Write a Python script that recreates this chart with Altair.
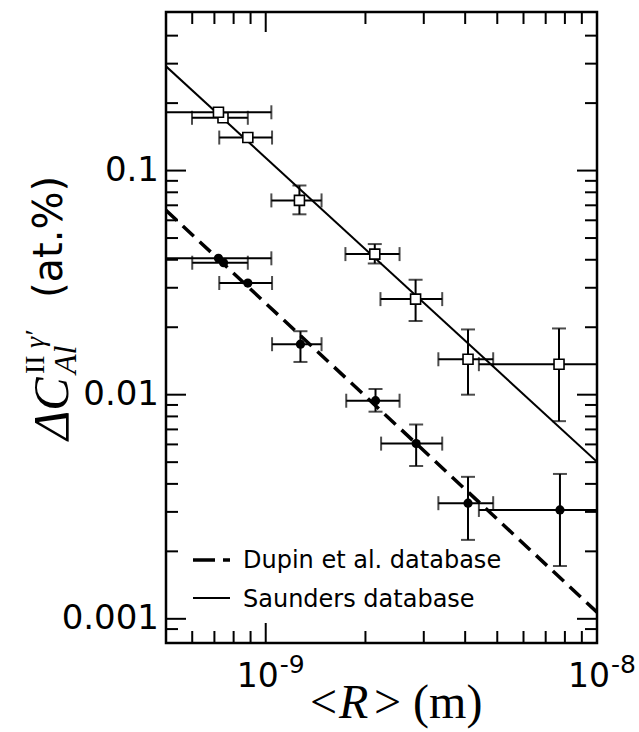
import altair as alt
import pandas as pd

# ---------------- data ----------------
# Saunders database (open squares)
s_x   = [7.43e-10, 7.2e-10, 8.83e-10, 1.264e-9, 2.134e-9, 2.834e-9, 4.08e-9, 7.68e-9]
s_y   = [0.172, 0.182, 0.1404, 0.0736, 0.0424, 0.0267, 0.01439, 0.01368]
s_xlo = [5.99e-10, 4.5e-10, 7.24e-10, 1.04e-9, 1.74e-9, 2.22e-9, 3.32e-9, 4.40e-9]
s_xhi = [8.83e-10, 1.04e-9, 1.045e-9, 1.474e-9, 2.535e-9, 3.41e-9, 4.86e-9, 1.3e-8]
s_ylo = [None, None, None, 0.0638, 0.0385, 0.0213, 0.0100, 0.00762]
s_yhi = [None, None, None, 0.0858, 0.0470, 0.0326, 0.01955, 0.01975]

# Dupin et al. database (filled circles)
d_x   = [7.46e-10, 7.2e-10, 8.83e-10, 1.273e-9, 2.145e-9, 2.845e-9, 4.08e-9, 7.73e-9]
d_y   = [0.0388, 0.0406, 0.0315, 0.0168, 0.0094, 0.00605, 0.00328, 0.00306]
d_xlo = [6.0e-10, 4.5e-10, 7.24e-10, 1.045e-9, 1.75e-9, 2.23e-9, 3.32e-9, 4.40e-9]
d_xhi = [8.83e-10, 1.04e-9, 1.045e-9, 1.474e-9, 2.535e-9, 3.41e-9, 4.86e-9, 1.3e-8]
d_ylo = [None, None, None, 0.0140, 0.0084, 0.00481, 0.00225, 0.00172]
d_yhi = [None, None, None, 0.0192, 0.0106, 0.00736, 0.0043, 0.00443]

# fitted lines (end points at the frame)
fit_x = [5e-10, 1e-8]
fit_saunders = [0.292, 0.00502]
fit_dupin = [0.0665, 0.00107]

# tick values and labels
xt_major = [1e-9, 1e-8]
xt_minor = [6e-10, 7e-10, 8e-10, 9e-10, 2e-9, 3e-9, 4e-9, 5e-9, 6e-9, 7e-9, 8e-9, 9e-9]
xt_base = ["10", "10"]
xt_exp = ["-9", "-8"]
yt_major = [0.001, 0.01, 0.1]
yt_labels = ["0.001", "0.01", "0.1"]
yt_minor = [0.0009, 0.002, 0.003, 0.004, 0.005, 0.006, 0.007, 0.008, 0.009,
            0.02, 0.03, 0.04, 0.05, 0.06, 0.07, 0.08, 0.09, 0.2, 0.3, 0.4]

legend_labels = ["Dupin et al. database", "Saunders database"]

# ---------------- chart ----------------
W, H = 431, 631
SANS = "DejaVu Sans"
SERIF = "Liberation Serif"

xscale = alt.Scale(type="log", domain=[5e-10, 1e-8], nice=False)
yscale = alt.Scale(type="log", domain=[0.00078, 0.51], nice=False)


def X(f):
    return alt.X(f"{f}:Q", scale=xscale, axis=None)


def Y(f):
    return alt.Y(f"{f}:Q", scale=yscale, axis=None)


def series_layers(df, shape, filled):
    base = alt.Chart(df)
    xerr = base.mark_rule(clip=True, color="black", strokeWidth=2).encode(
        x=X("xlo"), x2="xhi", y=Y("y"))
    xcap = base.transform_fold(["xlo", "xhi"], as_=["k", "cx"]).mark_tick(
        orient="vertical", size=14, thickness=2, color="black", clip=True).encode(
        x=X("cx"), y=Y("y"))
    yerr = base.transform_filter("isValid(datum.ylo)").mark_rule(
        clip=True, color="black", strokeWidth=2).encode(x=X("x"), y=Y("ylo"), y2="yhi")
    ycap = base.transform_filter("isValid(datum.ylo)").transform_fold(
        ["ylo", "yhi"], as_=["k", "cy"]).mark_tick(
        orient="horizontal", size=14, thickness=2, color="black", clip=True).encode(
        x=X("x"), y=Y("cy"))
    if filled:
        pts = base.mark_point(shape=shape, filled=True, color="black", size=85,
                              opacity=1, clip=True).encode(x=X("x"), y=Y("y"))
    else:
        pts = base.mark_point(shape=shape, filled=True, fill="white", stroke="black",
                              strokeWidth=1.6, size=100, opacity=1, clip=True).encode(
            x=X("x"), y=Y("y"))
    return [xerr, xcap, yerr, ycap, pts]


sdf = pd.DataFrame({"x": s_x, "y": s_y, "xlo": s_xlo, "xhi": s_xhi, "ylo": s_ylo, "yhi": s_yhi})
ddf = pd.DataFrame({"x": d_x, "y": d_y, "xlo": d_xlo, "xhi": d_xhi, "ylo": d_ylo, "yhi": d_yhi})

fit_df = pd.DataFrame({"x": fit_x, "ys": fit_saunders, "yd": fit_dupin})
line_s = alt.Chart(fit_df).mark_line(color="black", strokeWidth=2, clip=True).encode(
    x=X("x"), y=Y("ys"))
line_d = alt.Chart(fit_df).mark_line(color="black", strokeWidth=3.5, strokeDash=[15, 8],
                                     clip=True).encode(x=X("x"), y=Y("yd"))

# inward ticks
MAJ, MIN = 20, 12
xmaj = pd.DataFrame({"v": xt_major})
xmin = pd.DataFrame({"v": xt_minor})
ymaj = pd.DataFrame({"v": yt_major, "lab": yt_labels})
ymin = pd.DataFrame({"v": yt_minor})
tick_layers = []
for df, L in [(xmaj, MAJ), (xmin, MIN)]:
    tick_layers.append(alt.Chart(df).mark_rule(color="black", strokeWidth=2).encode(
        x=X("v"), y=alt.value(H), y2=alt.value(H - L)))
    tick_layers.append(alt.Chart(df).mark_rule(color="black", strokeWidth=2).encode(
        x=X("v"), y=alt.value(0), y2=alt.value(L)))
for df, L in [(ymaj, MAJ), (ymin, MIN)]:
    tick_layers.append(alt.Chart(df).mark_rule(color="black", strokeWidth=2).encode(
        y=Y("v"), x=alt.value(0), x2=alt.value(L)))
    tick_layers.append(alt.Chart(df).mark_rule(color="black", strokeWidth=2).encode(
        y=Y("v"), x=alt.value(W), x2=alt.value(W - L)))

# frame
frame = alt.Chart(pd.DataFrame({"a": [0]})).mark_rect(
    fill=None, stroke="black", strokeWidth=2.5).encode(
    x=alt.value(0), x2=alt.value(W), y=alt.value(0), y2=alt.value(H))

# y tick labels
yl = alt.Chart(ymaj).mark_text(font=SANS, fontSize=34, align="right", baseline="middle",
                               color="black").encode(y=Y("v"), x=alt.value(-7), text="lab:N")

# x tick labels 10^n
xl = pd.DataFrame({"v": xt_major, "b": xt_base, "e": xt_exp})
xl_base = alt.Chart(xl).mark_text(font=SANS, fontSize=33, align="right", baseline="alphabetic",
                                  dx=13, color="black").encode(x=X("v"), y=alt.value(675), text="b:N")
xl_exp = alt.Chart(xl).mark_text(font=SANS, fontSize=25, align="left", baseline="alphabetic",
                                 dx=14, color="black").encode(x=X("v"), y=alt.value(661), text="e:N")


def txt(label, px, py, **kw):
    return alt.Chart(pd.DataFrame({"t": [label]})).mark_text(color="black", **kw).encode(
        x=alt.value(px), y=alt.value(py), text="t:N")


# x title  <R> (m)
xt1 = txt("<", 144, 706, font=SERIF, fontSize=48, align="left", baseline="alphabetic")
xt2 = txt("R", 173, 706, font=SERIF, fontSize=48, fontStyle="italic", align="left",
          baseline="alphabetic")
xt3 = txt("> (m)", 208, 706, font=SERIF, fontSize=48, align="left", baseline="alphabetic")

# y title  ΔC_Al^{II γ'} (at.%)
OX = -10
yt1 = txt("ΔC", -88 + OX, 428, font=SERIF, fontSize=50, fontStyle="italic", angle=270,
          align="left", baseline="alphabetic")
yt2 = txt("Al", -80 + OX, 362, font=SERIF, fontSize=32, fontStyle="italic", angle=270,
          align="left", baseline="alphabetic")
yt3 = txt("II", -112 + OX, 362, font=SERIF, fontSize=28, angle=270, align="left",
          baseline="alphabetic")
yt4 = txt("γ′", -112 + OX, 336, font=SERIF, fontSize=28, fontStyle="italic", angle=270,
          align="left", baseline="alphabetic")
yt5 = txt("(at.%)", -94 + OX, 286, font=SANS, fontSize=40, angle=270, align="left",
          baseline="alphabetic")

# legend
leg_d = alt.Chart(pd.DataFrame({"a": [0]})).mark_rule(
    color="black", strokeWidth=3.5, strokeDash=[22, 8]).encode(
    x=alt.value(27), x2=alt.value(64), y=alt.value(548))
leg_s = alt.Chart(pd.DataFrame({"a": [0]})).mark_rule(color="black", strokeWidth=2).encode(
    x=alt.value(27), x2=alt.value(64), y=alt.value(586))
leg_t1 = txt(legend_labels[0], 77, 556, font=SANS, fontSize=24, align="left",
             baseline="alphabetic")
leg_t2 = txt(legend_labels[1], 77, 595, font=SANS, fontSize=24, align="left",
             baseline="alphabetic")

layers = (tick_layers + [line_s, line_d]
          + series_layers(sdf, "square", False)
          + series_layers(ddf, "circle", True)
          + [frame, yl, xl_base, xl_exp, xt1, xt2, xt3, yt1, yt2, yt3, yt4, yt5,
             leg_d, leg_s, leg_t1, leg_t2])

chart = alt.layer(*layers).properties(
    width=W, height=H,
    background="white",
    autosize=alt.AutoSizeParams(type="none"),
    padding={"left": 166, "top": 12, "right": 42, "bottom": 89},
).configure_view(stroke=None)

chart.save("out.html", embed_options={"renderer": "svg", "actions": False})
